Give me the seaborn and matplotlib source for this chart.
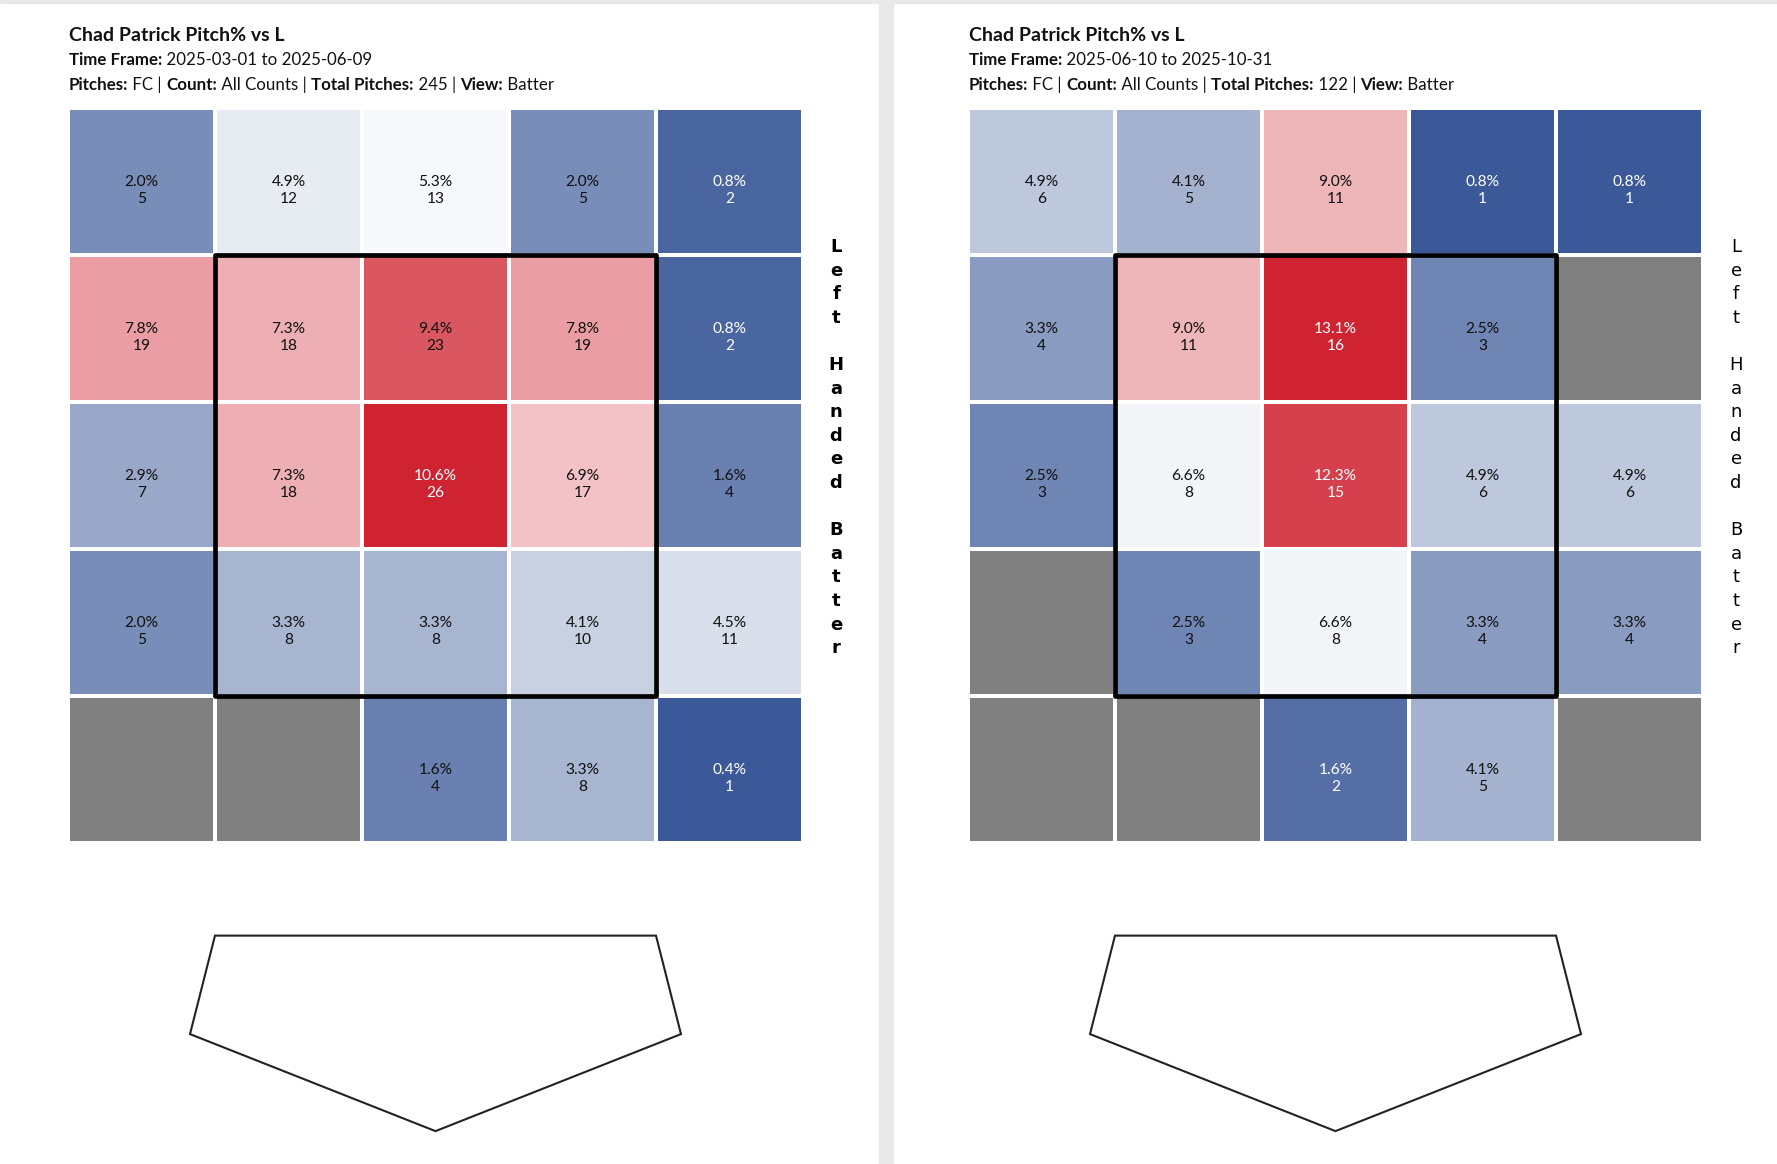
import numpy as np
import matplotlib
matplotlib.use("Agg")
import matplotlib.pyplot as plt
import seaborn as sns
from matplotlib.colors import LinearSegmentedColormap, ListedColormap, Normalize
from matplotlib.patches import Rectangle, Polygon

# Pitch counts per zone (rows top -> bottom, cols left -> right, batter view); None = no pitches
counts_early = [
    [5, 12, 13, 5, 2],
    [19, 18, 23, 19, 2],
    [7, 18, 26, 17, 4],
    [5, 8, 8, 10, 11],
    [None, None, 4, 8, 1],
]
counts_late = [
    [6, 5, 11, 1, 1],
    [4, 11, 16, 3, None],
    [3, 8, 15, 6, 6],
    [None, 3, 8, 4, 4],
    [None, None, 2, 5, None],
]
totals = [245, 122]
time_frames = [("2025-03-01", "2025-06-09"), ("2025-06-10", "2025-10-31")]
title = "Chad Patrick Pitch% vs L"
pitch_type = "FC"
count_label = "All Counts"
view = "Batter"
side_label = "Left Handed Batter"

sns.set_theme(style="white")
plt.rcParams['font.family'] = ['Lato', 'DejaVu Sans']

W, H = 1777, 1164
fig = plt.figure(figsize=(W / 100, H / 100), dpi=100)
fig.patch.set_facecolor("white")
renderer = fig.canvas.get_renderer()

# panel divider and top strip
fig.patches.append(Rectangle((879 / W, 0), 14 / W, 1, transform=fig.transFigure,
                             color="#e9e9e9", zorder=0))
fig.patches.append(Rectangle((0, 1 - 3 / H), 1, 3 / H, transform=fig.transFigure,
                             color="#e9e9e9", zorder=0))

cmap = LinearSegmentedColormap.from_list("zone", ["#3B5998", "#FFFFFF", "#CF2331"])
gray = ListedColormap(["#808080"])


def text_width(s, **kw):
    # width including trailing/leading spaces
    t = fig.text(0, 0, "|" + s + "|", **kw)
    w = t.get_window_extent(renderer).width
    t.remove()
    t = fig.text(0, 0, "||", **kw)
    w -= t.get_window_extent(renderer).width
    t.remove()
    return w


def rich_line(x_px, y_px, parts, size):
    x = x_px
    for s, weight in parts:
        fig.text(x / W, 1 - y_px / H, s, fontsize=size, fontweight=weight,
                 color="#111111", ha="left", va="baseline")
        x += text_width(s, fontsize=size, fontweight=weight)


left_px = [68, 968]
cell_px = 147
grid_top = 108

for k, raw in enumerate([counts_early, counts_late]):
    counts = np.array([[np.nan if c is None else c for c in row] for row in raw], dtype=float)
    pct = counts / totals[k] * 100
    missing = np.isnan(pct)
    norm = Normalize(np.nanmin(pct), np.nanmax(pct))

    ax = fig.add_axes([left_px[k] / W, 0, 5 * cell_px / W, (H - grid_top) / H])
    sns.heatmap(pct, ax=ax, cmap=cmap, vmin=norm.vmin, vmax=norm.vmax, mask=missing,
                cbar=False, linewidths=1.6, linecolor="white",
                xticklabels=False, yticklabels=False)
    sns.heatmap(np.zeros_like(pct), ax=ax, cmap=gray, vmin=0, vmax=1, mask=~missing,
                cbar=False, linewidths=1.6, linecolor="white",
                xticklabels=False, yticklabels=False)
    ax.set_xlim(0, 5)
    ax.set_ylim((H - grid_top) / cell_px, 0)
    ax.axis("off")

    for i in range(5):
        for j in range(5):
            if missing[i, j]:
                continue
            t = norm(pct[i, j])
            col = "white" if (t < 0.1 or t > 0.9) else "#111111"
            ax.text(j + 0.5, i + 0.56, f"{pct[i, j]:.1f}%\n{int(counts[i, j])}",
                    ha="center", va="center", fontsize=11.2, color=col, linespacing=1.3)

    # strike zone
    ax.add_patch(Rectangle((1, 1), 3, 3, fill=False, ec="black", lw=3.4,
                           joinstyle="round", zorder=5))
    # home plate
    ax.add_patch(Polygon([(1, 5.63), (4, 5.63), (4.17, 6.30), (2.5, 6.96), (0.83, 6.30)],
                         closed=True, fill=False, ec="#222222", lw=1.5, zorder=5))

    ax.text(5.225, 2.31, "\n".join(side_label), ha="center", va="center",
            fontsize=13, family="DejaVu Sans",
            fontweight="bold" if k == 0 else "normal",
            linespacing=1.4, color="black", clip_on=False)

    x0 = left_px[k] + 1
    rich_line(x0, 41, [(title, "bold")], 14)
    rich_line(x0, 65, [("Time Frame:", "bold"),
                       (f" {time_frames[k][0]} to {time_frames[k][1]}", "normal")], 12.2)
    rich_line(x0, 90, [("Pitches:", "bold"), (f" {pitch_type} | ", "normal"),
                       ("Count:", "bold"), (f" {count_label} | ", "normal"),
                       ("Total Pitches:", "bold"), (f" {totals[k]} | ", "normal"),
                       ("View:", "bold"), (f" {view}", "normal")], 12.2)

fig.savefig("out.png", dpi=100)
